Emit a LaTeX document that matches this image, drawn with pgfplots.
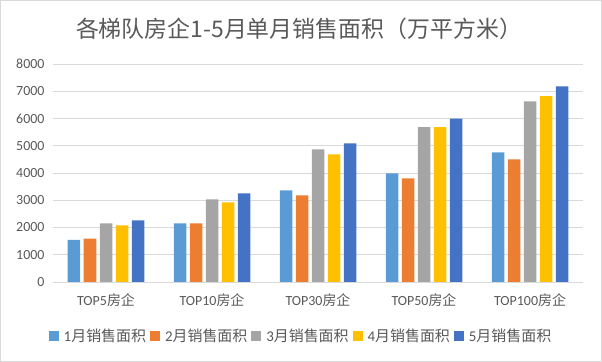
\documentclass[border=0pt]{standalone}
\usepackage{pgfplots}
\pgfplotsset{compat=1.18}
\usepackage{fontspec}
\setmainfont{Carlito}
\newfontfamily\cjk{Noto Sans CJK SC}
\definecolor{c1}{HTML}{5B9BD5}
\definecolor{c2}{HTML}{ED7D31}
\definecolor{c3}{HTML}{A5A5A5}
\definecolor{c4}{HTML}{FFC000}
\definecolor{c5}{HTML}{4472C4}
\definecolor{gridc}{HTML}{D9D9D9}
\definecolor{txt}{HTML}{595959}
\begin{document}
\begin{tikzpicture}
\draw[gridc, line width=0.8bp] (0.4bp,0.4bp) rectangle (601.6bp,361.6bp);
\node[text=txt, font=\cjk\fontsize{23}{26}\selectfont] at (299bp,333bp) {各梯队房企1-5月单月销售面积（万平方米）};
\begin{axis}[
  at={(53bp,80bp)}, anchor=south west,
  scale only axis, width=530bp, height=218bp,
  xmin=-0.5, xmax=4.5, ymin=0, ymax=8000,
  ytick distance=1000,
  xtick={0,1,2,3,4},
  xticklabels={{TOP5\cjk 房企},{TOP10\cjk 房企},{TOP30\cjk 房企},{TOP50\cjk 房企},{TOP100\cjk 房企}},
  ybar=3.5bp, bar width=12.5bp,
  axis line style={draw=none},
  major tick length=0pt,
  ymajorgrids, grid style={gridc, line width=0.8bp},
  tick label style={text=txt, font=\fontsize{14}{16}\selectfont},
  /pgf/number format/assume math mode=true,
  /pgf/number format/set thousands separator={},
  yticklabel style={xshift=-5bp},
  xticklabel style={anchor=base, yshift=-23bp},
  legend columns=5,
  legend style={draw=none, at={(0.466,-0.248)}, anchor=center,
    font=\cjk\fontsize{15}{17}\selectfont, text=txt,
    inner sep=0pt, nodes={inner sep=0pt},
    /tikz/every odd column/.append style={column sep=5bp},
    /tikz/every even column/.append style={column sep=4bp}},
  legend image code/.code={\fill[#1] (0bp,-5bp) rectangle (10bp,5bp);},
]
\addplot[fill=c1, draw=none] coordinates {(0,1550) (1,2150) (2,3360) (3,3990) (4,4760)};
\addplot[fill=c2, draw=none] coordinates {(0,1590) (1,2150) (2,3180) (3,3800) (4,4500)};
\addplot[fill=c3, draw=none] coordinates {(0,2150) (1,3030) (2,4870) (3,5680) (4,6630)};
\addplot[fill=c4, draw=none] coordinates {(0,2080) (1,2920) (2,4680) (3,5680) (4,6820)};
\addplot[fill=c5, draw=none] coordinates {(0,2260) (1,3250) (2,5090) (3,6000) (4,7180)};
\legend{{\rmfamily 1}月销售面积,{\rmfamily 2}月销售面积,{\rmfamily 3}月销售面积,{\rmfamily 4}月销售面积,{\rmfamily 5}月销售面积}
\end{axis}
\end{tikzpicture}
\end{document}
